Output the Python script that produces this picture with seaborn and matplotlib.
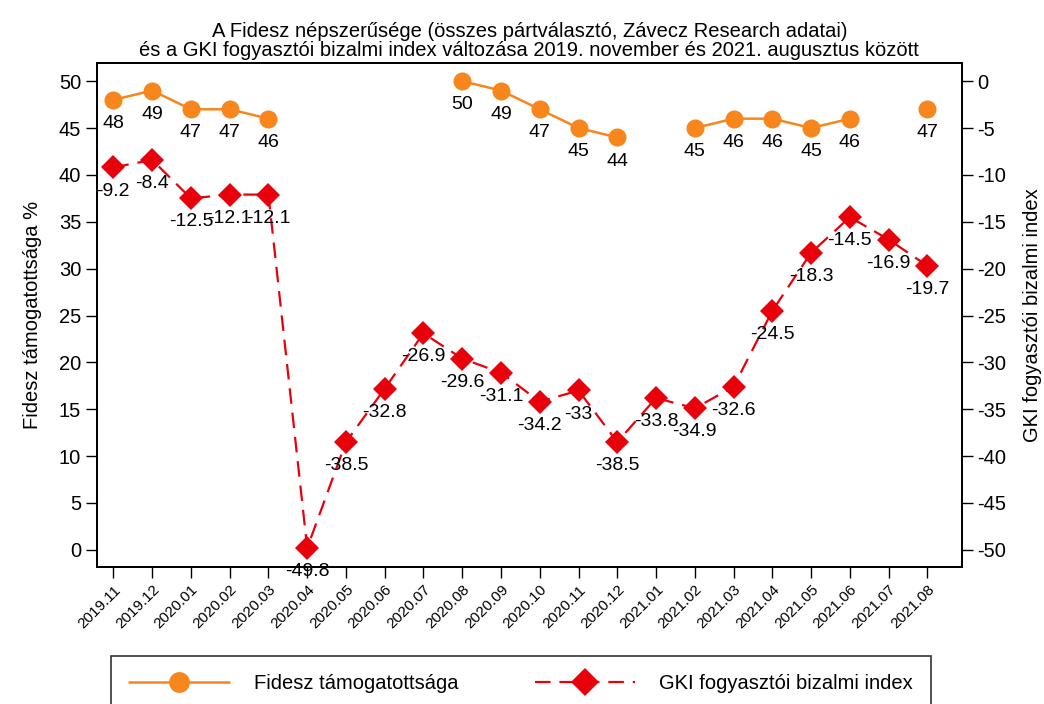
import numpy as np
import pandas as pd
import matplotlib.pyplot as plt
import seaborn as sns
from matplotlib.lines import Line2D

months = ['2019.11', '2019.12', '2020.01', '2020.02', '2020.03', '2020.04', '2020.05',
          '2020.06', '2020.07', '2020.08', '2020.09', '2020.10', '2020.11', '2020.12',
          '2021.01', '2021.02', '2021.03', '2021.04', '2021.05', '2021.06', '2021.07',
          '2021.08']
fidesz = [48, 49, 47, 47, 46, np.nan, np.nan, np.nan, np.nan, 50, 49, 47, 45, 44,
          np.nan, 45, 46, 46, 45, 46, np.nan, 47]
gki = [-9.2, -8.4, -12.5, -12.1, -12.1, -49.8, -38.5, -32.8, -26.9, -29.6, -31.1,
       -34.2, -33, -38.5, -33.8, -34.9, -32.6, -24.5, -18.3, -14.5, -16.9, -19.7]

orange = '#f7861c'
red = '#e8000b'

#prepare data
df = pd.DataFrame({'month': months, 'x': range(len(months)), 'fidesz': fidesz, 'gki': gki})
# segment id so that gaps in the Fidesz series are not joined
df['seg'] = df['fidesz'].isna().cumsum()
df_f = df.dropna(subset=['fidesz'])

sns.set_style('ticks')
plt.rcParams['font.family'] = ['Liberation Sans', 'DejaVu Sans']
plt.rcParams['axes.unicode_minus'] = False
for k in ['text.color', 'axes.labelcolor', 'xtick.color', 'ytick.color']:
    plt.rcParams[k] = 'black'

fig, ax1 = plt.subplots(figsize=(10.44, 7.04), dpi=100)
fig.subplots_adjust(left=0.093, right=0.921, top=0.91, bottom=0.195)
ax2 = ax1.twinx()

sns.lineplot(ax=ax1, data=df_f, x='x', y='fidesz', units='seg', estimator=None,
             color=orange, lw=1.8, marker='o', markersize=13, markeredgewidth=0)
sns.lineplot(ax=ax2, data=df, x='x', y='gki', estimator=None,
             color=red, lw=1.6, dashes=False, marker='D', markersize=12, markeredgewidth=0)
ax2.lines[0].set_linestyle((0, (7, 4)))

for _, r in df_f.iterrows():
    ax1.annotate('%g' % r['fidesz'], (r['x'], r['fidesz']), xytext=(0, -17),
                 textcoords='offset points', ha='center', va='center', fontsize=14)
for _, r in df.iterrows():
    ax2.annotate('%g' % r['gki'], (r['x'], r['gki']), xytext=(0, -17),
                 textcoords='offset points', ha='center', va='center', fontsize=14)

#set up axes
ax1.set_xlim(-0.42, 21.88)
ax1.set_ylim(-1.8, 51.9)
ax2.set_ylim(-51.8, 1.9)
ax1.set_yticks(range(0, 51, 5))
ax2.set_yticks(range(-50, 1, 5))
ax1.set_xticks(df['x'])
ax1.set_xticklabels(months, rotation=45, ha='right', rotation_mode='anchor', fontsize=11)
ax1.tick_params(axis='y', labelsize=14.5, length=8, width=1)
ax2.tick_params(axis='y', labelsize=14.5, length=8, width=1)
ax1.tick_params(axis='x', length=8, width=1)
ax1.set_xlabel('')
ax1.set_ylabel('Fidesz támogatottsága %', fontsize=14.5, labelpad=12)
ax2.set_ylabel('GKI fogyasztói bizalmi index', fontsize=14.5, labelpad=12)
for ax in (ax1, ax2):
    for s in ax.spines.values():
        s.set_visible(True)
        s.set_linewidth(1.3)
        s.set_color('black')
ax1.set_title('A Fidesz népszerűsége (összes pártválasztó, Závecz Research adatai)\n'
              'és a GKI fogyasztói bizalmi index változása 2019. november és 2021. augusztus között',
              fontsize=14.5, pad=5, linespacing=1.0)

#legend
handles = [Line2D([], [], color=orange, lw=1.8, marker='o', markersize=15, markeredgewidth=0),
           Line2D([], [], color=red, lw=1.6, ls=(0, (7, 4)), marker='D', markersize=14,
                  markeredgewidth=0)]
leg = fig.legend(handles, ['Fidesz támogatottsága', 'GKI fogyasztói bizalmi index'],
                 loc='lower center', bbox_to_anchor=(0.499, -0.025), ncol=2, fontsize=14.5,
                 handlelength=5.0, columnspacing=3.8, frameon=True, fancybox=False,
                 borderpad=0.9, handletextpad=1.2)
leg.get_frame().set_edgecolor('black')
leg.get_frame().set_linewidth(1.2)

fig.savefig('out.png', dpi=100)
